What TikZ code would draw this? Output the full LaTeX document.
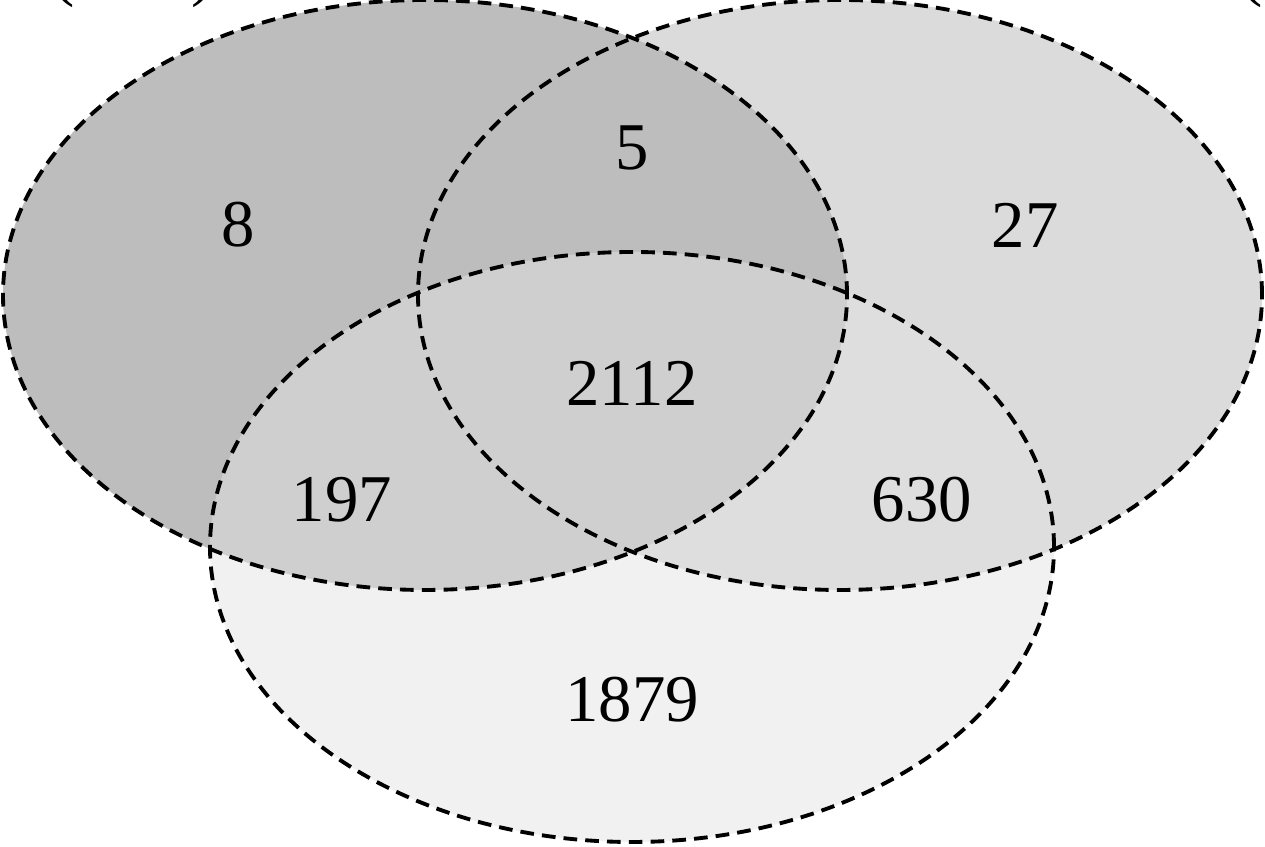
\documentclass[tikz,border=0pt]{standalone}
\usepackage{fontspec}
\setmainfont{Liberation Serif}
\usetikzlibrary{calc}

\begin{document}
\begin{tikzpicture}[
    x=1cm,
    y=1cm,
    setline/.style={
        draw=black,
        line width=1.1pt,
        dash pattern=on 3.9pt off 2.3pt
    },
    count/.style={
        font=\fontsize{19}{23}\selectfont,
        inner sep=1pt
    },
    paren/.style={
        font=\fontsize{19}{23}\selectfont,
        anchor=base,
        inner sep=0pt
    }
]

\clip (0,0) rectangle (12.65,8.47);
\useasboundingbox (0,0) rectangle (12.65,8.47);

% =====================================================
% Set centres
% =====================================================

\coordinate (CA) at (4.25,5.52);
\coordinate (CB) at (8.40,5.52);
\coordinate (CC) at (6.32,3.00);

% =====================================================
% Fills
% =====================================================

\fill[fill=black!14] (CB) ellipse [x radius=4.22cm, y radius=2.95cm];
\fill[fill=black!26] (CA) ellipse [x radius=4.22cm, y radius=2.95cm];
\fill[fill=black!11, fill opacity=0.49] (CC) ellipse [x radius=4.22cm, y radius=2.95cm];

% =====================================================
% Outlines
% =====================================================

\draw[setline] (CA) ellipse [x radius=4.22cm, y radius=2.95cm];
\draw[setline] (CB) ellipse [x radius=4.22cm, y radius=2.95cm];
\draw[setline] (CC) ellipse [x radius=4.22cm, y radius=2.95cm];

% =====================================================
% Counts
% =====================================================

\node[count] (nA)   at (2.38,6.22) {8};
\node[count] (nAB)  at (6.32,6.99) {5};
\node[count] (nB)   at (10.25,6.22) {27};
\node[count] (nABC) at (6.32,4.64) {2112};
\node[count] (nAC)  at (3.42,3.47) {197};
\node[count] (nBC)  at (9.22,3.47) {630};
\node[count] (nC)   at (6.32,1.47) {1879};

% =====================================================
% Cut-off labels at the top
% =====================================================

\node[paren] (pL1) at (0.64,8.53) {(};
\node[paren] (pL2) at (2.03,8.53) {)};
\node[paren] (pR1) at (12.52,8.53) {(};

\end{tikzpicture}
\end{document}
